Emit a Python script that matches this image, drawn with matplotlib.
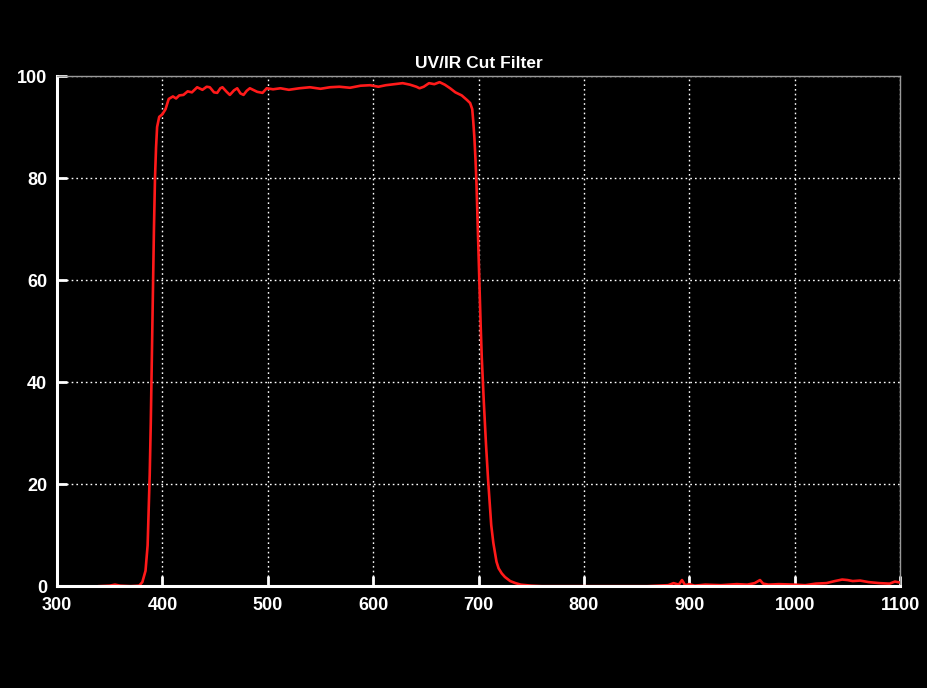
import matplotlib
matplotlib.use("Agg")
import matplotlib.pyplot as plt

plt.rcParams['font.family'] = ['Liberation Sans', 'DejaVu Sans']

# wavelength (nm) and transmission (%)
wavelength = [340, 350, 355, 360, 370, 378, 381, 384, 386, 387, 388, 389, 390, 391, 392, 393, 394, 395,
              397, 400, 403, 406, 410, 413, 416, 420, 424, 428, 433, 438, 442, 445, 449, 452,
              455, 457, 461, 464, 468, 471, 474, 477, 480, 483, 487, 490, 495, 499, 505,
              512, 520, 530, 540, 550, 559, 568, 578, 588, 597, 605, 612, 620, 628, 635,
              641, 644, 648, 653, 658, 663, 668, 673, 678, 684, 689, 692, 694, 695, 696, 697,
              698, 699, 700, 701, 702, 703, 705, 707, 709, 711, 712, 714, 716, 717, 719, 722,
              725, 730, 735, 740, 750, 760, 780, 800, 820, 840, 860, 870, 880, 885, 890, 893,
              896, 900, 905, 915, 930, 945, 955, 962, 967, 970, 975, 985, 1000, 1010, 1020,
              1030, 1038, 1045, 1050, 1055, 1062, 1070, 1080, 1090, 1095, 1100]
transmission = [0.0, 0.1, 0.3, 0.1, 0.0, 0.1, 0.8, 3.0, 8.0, 15.0, 22.0, 32.0, 45.0, 58.0, 70.0, 80.0, 86.0, 90.0,
                92.0, 92.5, 93.5, 95.5, 96.0, 95.6, 96.2, 96.3, 97.0, 96.8, 97.8, 97.3, 97.9, 97.8, 96.8, 96.7,
                97.6, 97.8, 96.9, 96.3, 97.2, 97.6, 96.6, 96.3, 97.1, 97.6, 97.2, 96.9, 96.7, 97.6, 97.4,
                97.6, 97.3, 97.6, 97.8, 97.5, 97.8, 97.9, 97.7, 98.1, 98.2, 97.9, 98.2, 98.4, 98.6, 98.3,
                97.9, 97.6, 97.9, 98.6, 98.4, 98.8, 98.3, 97.6, 96.8, 96.2, 95.3, 94.7, 93.5, 91.0, 88.0, 84.0,
                79.0, 72.0, 65.0, 58.0, 51.0, 45.0, 36.0, 28.0, 21.0, 15.0, 12.0, 8.5, 6.0, 4.8, 3.5, 2.5,
                1.8, 1.0, 0.6, 0.3, 0.1, 0.0, 0.0, 0.0, 0.0, 0.0, 0.0, 0.1, 0.2, 0.6, 0.3, 1.2,
                0.2, 0.4, 0.1, 0.3, 0.2, 0.4, 0.3, 0.6, 1.2, 0.5, 0.3, 0.4, 0.3, 0.2, 0.5,
                0.6, 1.0, 1.3, 1.2, 1.0, 1.1, 0.8, 0.6, 0.5, 0.9, 0.7]

fig = plt.figure(figsize=(9.28, 6.88), dpi=100, facecolor="black")
ax = fig.add_axes([0.0614, 0.148, 0.9086, 0.7415])
ax.set_facecolor("black")

ax.plot(wavelength, transmission, color="#ff1a1a", linewidth=1.9)

ax.set_xlim(300, 1100)
ax.set_ylim(0, 100)
ax.set_xticks(range(300, 1101, 100))
ax.set_yticks(range(0, 101, 20))
ax.grid(True, color="white", linestyle=(0, (1.2, 2.2)), linewidth=1.0)

for side in ("left", "bottom"):
    ax.spines[side].set_color("white")
    ax.spines[side].set_linewidth(2.2)
for side in ("top", "right"):
    ax.spines[side].set_color("#9a9a9a")
    ax.spines[side].set_linewidth(1.0)

ax.tick_params(colors="white", direction="in", length=7, width=2, labelsize=13)
ax.tick_params(axis="y", pad=7)
ax.tick_params(axis="x", pad=8)
for lab in ax.get_xticklabels() + ax.get_yticklabels():
    lab.set_fontweight("bold")

ax.set_title("UV/IR Cut Filter", color="white", fontsize=12.5, fontweight="bold", pad=6)

fig.savefig("out.png", dpi=100, facecolor="black")
